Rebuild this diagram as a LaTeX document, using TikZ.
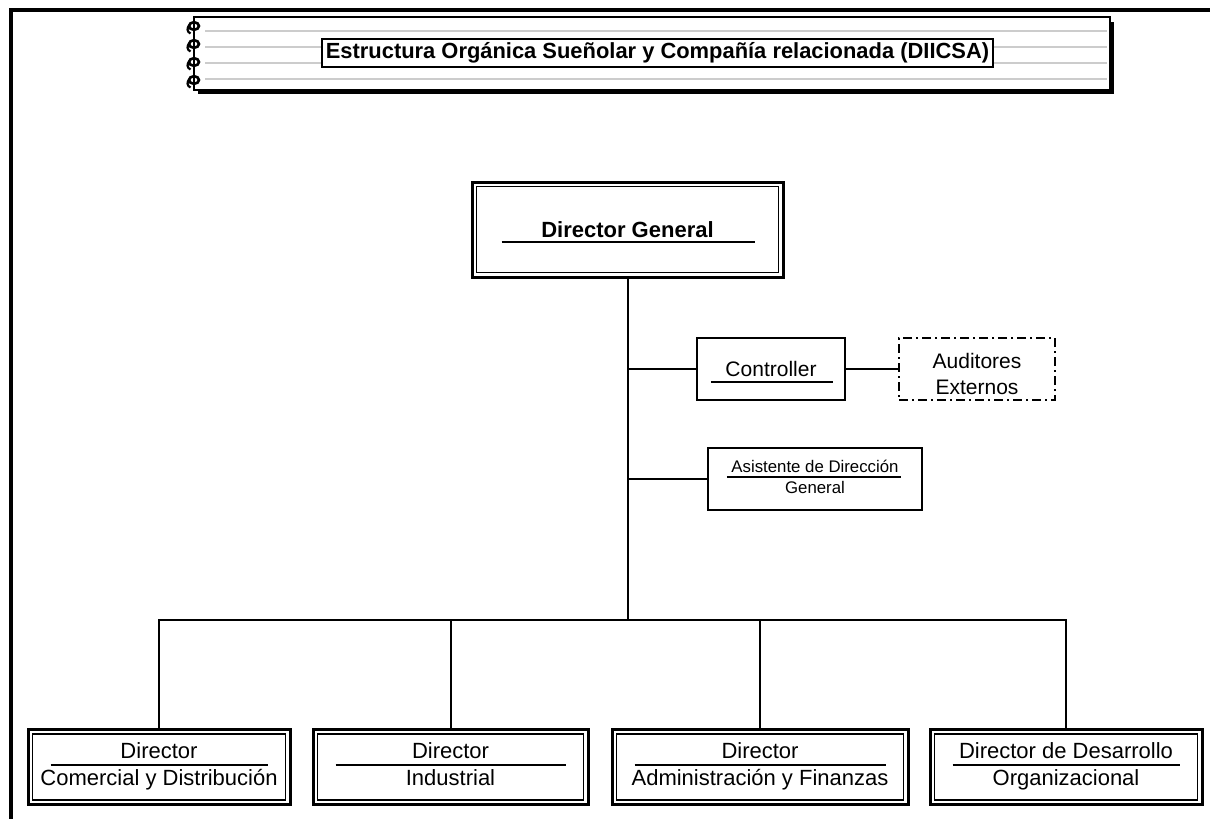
\documentclass[tikz,border=0pt]{standalone}
\usepackage{fontspec}
\setmainfont{Liberation Sans}
\begin{document}
\begin{tikzpicture}[x=1pt,y=-1pt,
  conn/.style={line width=2pt},
  sepline/.style={line width=2pt},
  frameline/.style={line width=4pt},
  dbox/.style={draw, line width=3pt, fill=white, align=center, inner sep=0pt,
    path picture={\draw[line width=1.3pt] ([shift={(4.5pt,-4.5pt)}]path picture bounding box.north west) rectangle ([shift={(-4.5pt,4.5pt)}]path picture bounding box.south east);}},
  sbox/.style={draw, line width=2.2pt, fill=white, align=center, inner sep=0pt},
  dashbox/.style={draw, line width=2pt, dash pattern=on 9pt off 4pt on 2pt off 4pt, align=center, inner sep=0pt},
  nbook/.style={draw, line width=1.5pt, fill=white, inner sep=0pt},
  titlebox/.style={draw, line width=2.2pt, fill=white, inner sep=0pt, font=\bfseries\fontsize{21.9}{26}\selectfont},
  ruling/.style={gray!40, line width=2pt},
  ring/.style={line width=2.6pt},
  fbig/.style={font=\fontsize{22}{27}\selectfont},
  fbold/.style={font=\bfseries\fontsize{22}{27}\selectfont},
  fmid/.style={font=\fontsize{21}{26}\selectfont},
  fsmall/.style={font=\fontsize{16.8}{21}\selectfont}
]
\useasboundingbox (0,0) rectangle (1210,819);

% page frame (top and left)
\draw[frameline] (10.5,819) -- (10.5,10) -- (1210,10);

% notebook title banner
\fill (198,22) rectangle (1114,94);
\node[nbook, minimum width=916pt, minimum height=73pt] (nb) at (652,53.5) {};
\foreach \yy in {31,47,63,79} \draw[ruling] (205,\yy) -- (1107,\yy);
\foreach \yy in {26,44,62,80} {
  \draw[ring] (194,\yy) ellipse (5 and 3.8);
  \draw[line width=2.2pt] (189.5,\yy-1) .. controls (186.5,\yy+2) and (187,\yy+6) .. (190.5,\yy+7.5);
}
\node[titlebox, minimum width=671pt, minimum height=28pt] (tb) at (657.5,53)
  {Estructura Orgánica Sueñolar y Compañía relacionada (DIICSA)};

% Director General
\node[dbox, fbold, minimum width=311pt, minimum height=95pt] (dg) at (627.5,229.5) {Director General};
\draw[sepline] ([xshift=31pt,yshift=-12.5pt]dg.west) -- ([xshift=-30pt,yshift=-12.5pt]dg.east);

% Controller & Auditores
\node[sbox, fmid, minimum width=148pt, minimum height=62pt] (ctl) at (771,369) {Controller};
\draw[sepline] ([xshift=15pt,yshift=-13pt]ctl.west) -- ([xshift=-13pt,yshift=-13pt]ctl.east);
\node[dashbox, fmid, minimum width=156pt, minimum height=62pt] (aud) at (977,369)
  {\rule{0pt}{25pt}Auditores\\Externos};

% Asistente
\node[sbox, fsmall, minimum width=214pt, minimum height=62pt] (ast) at (815,479)
  {\strut Asistente de Dirección\\General\strut};
\draw[line width=1.6pt] ([xshift=20pt,yshift=2pt]ast.west) -- ([xshift=-22pt,yshift=2pt]ast.east);

% bottom directors
\node[dbox, fbig, minimum width=262pt, minimum height=75pt] (b1) at (159,767)
  {\strut Director\\Comercial y Distribución\strut};
\node[dbox, fbig, minimum width=275pt, minimum height=75pt] (b2) at (450.5,767)
  {\strut Director\\Industrial\strut};
\node[dbox, fbig, minimum width=296pt, minimum height=75pt] (b3) at (760,767)
  {\strut Director\\Administración y Finanzas\strut};
\node[dbox, fbig, minimum width=272pt, minimum height=75pt] (b4) at (1066,767)
  {\strut Director de Desarrollo\\Organizacional\strut};
\foreach \b in {b1,b2,b3,b4}
  \draw[sepline] ([xshift=24pt,yshift=2pt]\b.west) -- ([xshift=-24pt,yshift=2pt]\b.east);

% connectors
\coordinate (bus) at (627.5,620);
\draw[conn] (dg.south) -- (bus);
\draw[conn] (ctl.west) -- (ctl.west -| dg.south);
\draw[conn] (ctl.east) -- (aud.west);
\draw[conn] (ast.west) -- (ast.west -| dg.south);
\draw[conn] (b1.north) -- (b1.north |- bus) -- (b4.north |- bus) -- (b4.north);
\draw[conn] (b2.north) -- (b2.north |- bus);
\draw[conn] (b3.north) -- (b3.north |- bus);
\end{tikzpicture}
\end{document}
